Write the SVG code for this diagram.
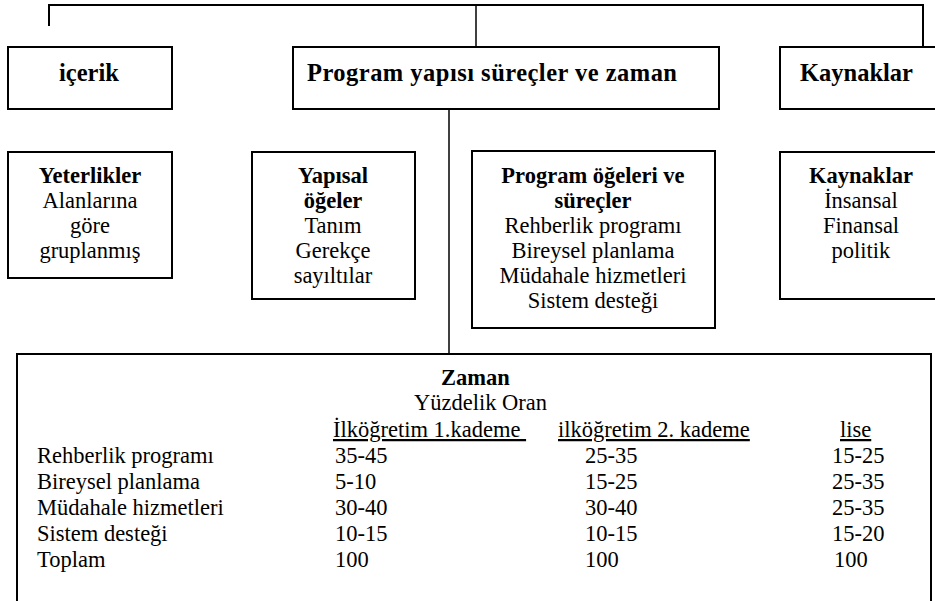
<svg xmlns="http://www.w3.org/2000/svg" width="935" height="601" viewBox="0 0 935 601" font-family="'Liberation Serif', Tinos, 'Times New Roman', 'DejaVu Serif', serif">
<style>
text{font-family:'Liberation Serif',Tinos,'Times New Roman','DejaVu Serif',serif;fill:#000}
.b{font-weight:bold}
.t{font-size:24.5px;font-weight:bold}
.s{font-size:22.5px}
.c{text-anchor:middle}
.u{text-decoration:underline;white-space:pre}
.box{fill:#fff;stroke:#000;stroke-width:2}
.con{fill:none;stroke:#000;stroke-width:2}
.con2{fill:none;stroke:#000;stroke-width:1.5}
</style>
<rect width="935" height="601" fill="#fff"/>
<g id="connectors">
<path class="con" d="M49,26 V5 H923 V47"/>
<path class="con2" d="M476,5 V47"/>
<path class="con2" d="M449,109 V354"/>
</g>
<g id="icerik">
<rect class="box" x="8" y="47" width="164" height="62"/>
<text class="t c" x="89" y="81">içerik</text>
</g>
<g id="program">
<rect class="box" x="293" y="47" width="426" height="62"/>
<text class="t" x="307" y="81" textLength="370">Program yapısı süreçler ve zaman</text>
</g>
<g id="kaynaklar">
<rect class="box" x="780" y="47" width="170" height="62"/>
<text class="t" x="800" y="81">Kaynaklar</text>
</g>
<g id="yeterlikler">
<rect class="box" x="8" y="152" width="164" height="126"/>
<text class="s c" x="90" y="183"><tspan class="b">Yeterlikler</tspan><tspan x="90" y="208">Alanlarına</tspan><tspan x="90" y="233">göre</tspan><tspan x="90" y="258">gruplanmış</tspan></text>
</g>
<g id="yapisal">
<rect class="box" x="252" y="152" width="163" height="147"/>
<text class="s c" x="333" y="183"><tspan class="b">Yapısal</tspan><tspan class="b" x="333" y="208">öğeler</tspan><tspan x="333" y="233">Tanım</tspan><tspan x="333" y="258">Gerekçe</tspan><tspan x="333" y="283">sayıltılar</tspan></text>
</g>
<g id="ogeler">
<rect class="box" x="472" y="151" width="243" height="177"/>
<text class="s c" x="593" y="183"><tspan class="b">Program öğeleri ve</tspan><tspan class="b" x="593" y="208">süreçler</tspan><tspan x="593" y="233">Rehberlik programı</tspan><tspan x="593" y="258">Bireysel planlama</tspan><tspan x="593" y="283">Müdahale hizmetleri</tspan><tspan x="593" y="308">Sistem desteği</tspan></text>
</g>
<g id="kaynaklar2">
<rect class="box" x="780" y="152" width="170" height="147"/>
<text class="s c" x="861" y="183"><tspan class="b">Kaynaklar</tspan><tspan x="861" y="208">İnsansal</tspan><tspan x="861" y="233">Finansal</tspan><tspan x="861" y="258">politik</tspan></text>
</g>
<g id="zaman">
<rect class="box" x="17" y="354" width="914" height="270"/>
<text class="s b" x="441" y="385">Zaman</text>
<text class="s" x="414" y="410">Yüzdelik Oran</text>
<text class="s u" x="333" y="437">İlköğretim 1.kademe </text>
<text class="s u" x="558" y="437">ilköğretim 2. kademe</text>
<text class="s u" x="840" y="437">lise</text>
<text class="s" x="37" y="463">Rehberlik programı</text>
<text class="s" x="37" y="489">Bireysel planlama</text>
<text class="s" x="37" y="515">Müdahale hizmetleri</text>
<text class="s" x="37" y="541">Sistem desteği</text>
<text class="s" x="37" y="567">Toplam</text>
<text class="s" x="335" y="463">35-45</text>
<text class="s" x="335" y="489">5-10</text>
<text class="s" x="335" y="515">30-40</text>
<text class="s" x="335" y="541">10-15</text>
<text class="s" x="335" y="567">100</text>
<text class="s" x="585" y="463">25-35</text>
<text class="s" x="585" y="489">15-25</text>
<text class="s" x="585" y="515">30-40</text>
<text class="s" x="585" y="541">10-15</text>
<text class="s" x="585" y="567">100</text>
<text class="s" x="832" y="463">15-25</text>
<text class="s" x="832" y="489">25-35</text>
<text class="s" x="832" y="515">25-35</text>
<text class="s" x="832" y="541">15-20</text>
<text class="s" x="834" y="567">100</text>
</g>
</svg>
